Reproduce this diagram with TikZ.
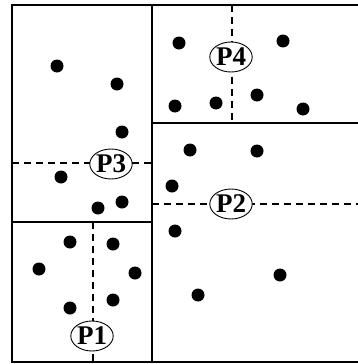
\documentclass[tikz,border=0pt]{standalone}
\usepackage{fontspec}
\setmainfont{Liberation Serif}
\usetikzlibrary{shapes.geometric}
\begin{document}
\begin{tikzpicture}[x=1pt,y=-1pt,
  frame/.style={line width=1.8pt},
  split/.style={line width=1.3pt,dash pattern=on 7pt off 5pt},
  lab/.style={ellipse,draw,line width=0.9pt,fill=white,minimum width=40pt,minimum height=30pt,inner sep=0pt,font=\fontsize{27}{27}\selectfont\bfseries},
  dot/.style={circle,fill=black,minimum size=13pt,inner sep=0pt}]
\useasboundingbox (0,0) rectangle (358,364);
\begin{scope}
\clip (0,0) rectangle (358,364);
% outer frame
\coordinate (tr) at (362,5);
\coordinate (tl) at (12,5);
\coordinate (bl) at (12,362);
\coordinate (br) at (362,362);
\draw[frame] (tr) -- (tl) -- (bl) -- (br);
% dividers
\coordinate (vt) at (152,5);
\coordinate (vb) at (152,362);
\draw[frame] (vt) -- (vb);
\coordinate (lh1) at (12,222);
\coordinate (lh2) at (152,222);
\draw[frame] (lh1) -- (lh2);
\coordinate (rh1) at (152,123);
\coordinate (rh2) at (362,123);
\draw[frame] (rh1) -- (rh2);
% split lines
\coordinate (s3a) at (12,163);
\coordinate (s3b) at (152,163);
\draw[split] (s3a) -- (s3b);
\coordinate (s1a) at (93,222);
\coordinate (s1b) at (93,362);
\draw[split] (s1a) -- (s1b);
\coordinate (s2a) at (152,204);
\coordinate (s2b) at (362,204);
\draw[split] (s2a) -- (s2b);
\coordinate (s4a) at (232,5);
\coordinate (s4b) at (232,123);
\draw[split] (s4a) -- (s4b);
\end{scope}
% labels
\node[lab] (P3) at (111,164) {P3};
\node[lab] (P1) at (92,336) {P1};
\node[lab] (P2) at (231,204) {P2};
\node[lab] (P4) at (231,57) {P4};
% points
\foreach \n/\x/\y in {a1/57/66, a2/117/84, a3/122/132, a4/61/177, a5/98/208, a6/122/202,
  b1/70/242, b2/113/244, b3/39/269, b4/135/273, b5/70/308, b6/113/300,
  c1/179/43, c2/283/41, c3/175/106, c4/216/103, c5/257/95, c6/303/109,
  d1/190/150, d2/257/151, d3/172/186, d4/175/231, d5/198/295, d6/280/275}
  \node[dot] (\n) at (\x,\y) {};
\end{tikzpicture}
\end{document}
